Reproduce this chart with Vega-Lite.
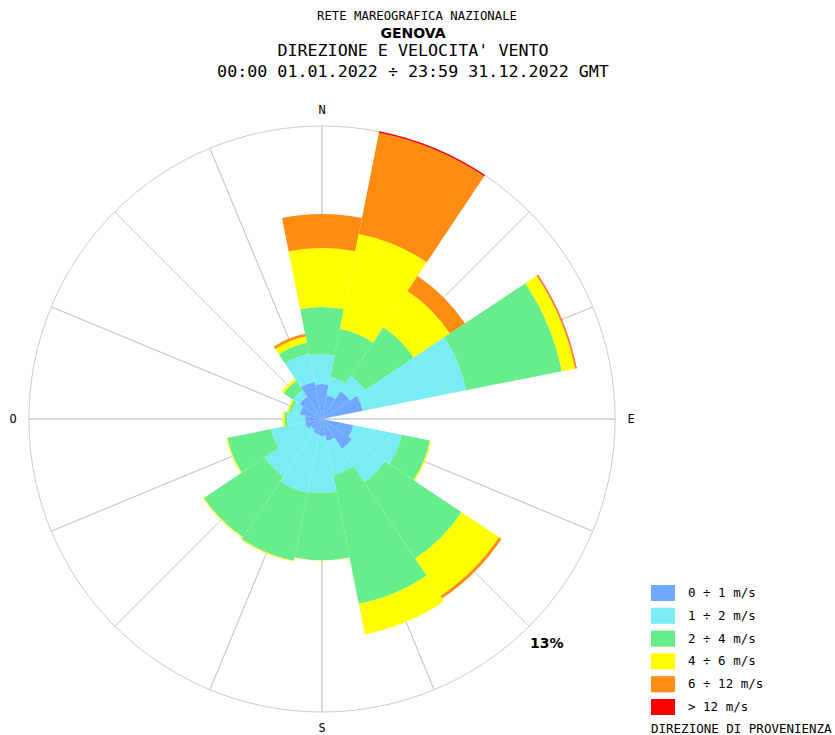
{
  "$schema": "https://vega.github.io/schema/vega-lite/v6.json",
  "background": "white",
  "padding": {"left": 2, "top": 10, "right": 0, "bottom": 0},
  "title": {
    "text": "RETE MAREOGRAFICA NAZIONALE",
    "font": "DejaVu Sans Mono", "fontSize": 12.3, "fontWeight": "normal", "color": "black",
    "anchor": "middle", "frame": "bounds", "offset": 4
  },
  "datasets": {
    "rose": [
      {"d": 0, "s": "0 ÷ 1 m/s", "f": 1.55}, {"d": 0, "s": "1 ÷ 2 m/s", "f": 1.32}, {"d": 0, "s": "2 ÷ 4 m/s", "f": 2.10}, {"d": 0, "s": "4 ÷ 6 m/s", "f": 2.62}, {"d": 0, "s": "6 ÷ 12 m/s", "f": 1.50},
      {"d": 22.5, "s": "0 ÷ 1 m/s", "f": 1.07}, {"d": 22.5, "s": "1 ÷ 2 m/s", "f": 0.83}, {"d": 22.5, "s": "2 ÷ 4 m/s", "f": 2.18}, {"d": 22.5, "s": "4 ÷ 6 m/s", "f": 4.29}, {"d": 22.5, "s": "6 ÷ 12 m/s", "f": 4.58}, {"d": 22.5, "s": "> 12 m/s", "f": 0.07},
      {"d": 45, "s": "0 ÷ 1 m/s", "f": 1.50}, {"d": 45, "s": "1 ÷ 2 m/s", "f": 0.80}, {"d": 45, "s": "2 ÷ 4 m/s", "f": 2.60}, {"d": 45, "s": "4 ÷ 6 m/s", "f": 1.93}, {"d": 45, "s": "6 ÷ 12 m/s", "f": 0.80},
      {"d": 67.5, "s": "0 ÷ 1 m/s", "f": 1.86}, {"d": 67.5, "s": "1 ÷ 2 m/s", "f": 4.66}, {"d": 67.5, "s": "2 ÷ 4 m/s", "f": 4.33}, {"d": 67.5, "s": "4 ÷ 6 m/s", "f": 0.60}, {"d": 67.5, "s": "6 ÷ 12 m/s", "f": 0.05}, {"d": 67.5, "s": "> 12 m/s", "f": 0.02},
      {"d": 112.5, "s": "0 ÷ 1 m/s", "f": 1.42}, {"d": 112.5, "s": "1 ÷ 2 m/s", "f": 2.18}, {"d": 112.5, "s": "2 ÷ 4 m/s", "f": 1.28}, {"d": 112.5, "s": "4 ÷ 6 m/s", "f": 0.05},
      {"d": 135, "s": "0 ÷ 1 m/s", "f": 1.60}, {"d": 135, "s": "1 ÷ 2 m/s", "f": 1.77}, {"d": 135, "s": "2 ÷ 4 m/s", "f": 4.08}, {"d": 135, "s": "4 ÷ 6 m/s", "f": 2.00}, {"d": 135, "s": "6 ÷ 12 m/s", "f": 0.13},
      {"d": 157.5, "s": "0 ÷ 1 m/s", "f": 1.00}, {"d": 157.5, "s": "1 ÷ 2 m/s", "f": 1.53}, {"d": 157.5, "s": "2 ÷ 4 m/s", "f": 5.83}, {"d": 157.5, "s": "4 ÷ 6 m/s", "f": 1.38},
      {"d": 180, "s": "0 ÷ 1 m/s", "f": 0.75}, {"d": 180, "s": "1 ÷ 2 m/s", "f": 2.53}, {"d": 180, "s": "2 ÷ 4 m/s", "f": 2.98}, {"d": 180, "s": "4 ÷ 6 m/s", "f": 0.02},
      {"d": 202.5, "s": "0 ÷ 1 m/s", "f": 0.70}, {"d": 202.5, "s": "1 ÷ 2 m/s", "f": 2.63}, {"d": 202.5, "s": "2 ÷ 4 m/s", "f": 3.08}, {"d": 202.5, "s": "4 ÷ 6 m/s", "f": 0.04},
      {"d": 225, "s": "0 ÷ 1 m/s", "f": 0.58}, {"d": 225, "s": "1 ÷ 2 m/s", "f": 2.48}, {"d": 225, "s": "2 ÷ 4 m/s", "f": 3.24}, {"d": 225, "s": "4 ÷ 6 m/s", "f": 0.04},
      {"d": 247.5, "s": "0 ÷ 1 m/s", "f": 0.75}, {"d": 247.5, "s": "1 ÷ 2 m/s", "f": 1.55}, {"d": 247.5, "s": "2 ÷ 4 m/s", "f": 1.98}, {"d": 247.5, "s": "4 ÷ 6 m/s", "f": 0.04},
      {"d": 270, "s": "0 ÷ 1 m/s", "f": 0.75}, {"d": 270, "s": "1 ÷ 2 m/s", "f": 0.80}, {"d": 270, "s": "2 ÷ 4 m/s", "f": 0.11}, {"d": 270, "s": "4 ÷ 6 m/s", "f": 0.09},
      {"d": 292.5, "s": "0 ÷ 1 m/s", "f": 1.00}, {"d": 292.5, "s": "1 ÷ 2 m/s", "f": 0.38}, {"d": 292.5, "s": "2 ÷ 4 m/s", "f": 0.12}, {"d": 292.5, "s": "4 ÷ 6 m/s", "f": 0.07},
      {"d": 315, "s": "0 ÷ 1 m/s", "f": 1.20}, {"d": 315, "s": "1 ÷ 2 m/s", "f": 0.35}, {"d": 315, "s": "2 ÷ 4 m/s", "f": 0.49}, {"d": 315, "s": "4 ÷ 6 m/s", "f": 0.11},
      {"d": 337.5, "s": "0 ÷ 1 m/s", "f": 1.69}, {"d": 337.5, "s": "1 ÷ 2 m/s", "f": 1.26}, {"d": 337.5, "s": "2 ÷ 4 m/s", "f": 0.50}, {"d": 337.5, "s": "4 ÷ 6 m/s", "f": 0.28}, {"d": 337.5, "s": "6 ÷ 12 m/s", "f": 0.13}
    ],
    "dirs": [
      {"d": 0}, {"d": 22.5}, {"d": 45}, {"d": 67.5}, {"d": 90}, {"d": 112.5}, {"d": 135}, {"d": 157.5},
      {"d": 180}, {"d": 202.5}, {"d": 225}, {"d": 247.5}, {"d": 270}, {"d": 292.5}, {"d": 315}, {"d": 337.5}
    ],
    "card": [
      {"d": 0, "t": "N"}, {"d": 90, "t": "E"}, {"d": 180, "t": "S"}, {"d": 270, "t": "O"}
    ]
  },
  "vconcat": [
    {
      "width": 640,
      "height": 640,
      "title": {
        "text": "GENOVA",
        "subtitle": ["DIREZIONE E VELOCITA' VENTO", "00:00 01.01.2022 ÷ 23:59 31.12.2022 GMT"],
        "font": "DejaVu Sans", "fontSize": 14, "fontWeight": "bold", "color": "black",
        "subtitleFont": "DejaVu Sans Mono", "subtitleFontSize": 16.7, "subtitleColor": "black",
        "subtitleLineHeight": 21.7, "subtitlePadding": 2,
        "anchor": "middle", "frame": "bounds", "offset": 18, "dx": 91
      },
      "layer": [
        {
          "data": {"name": "dirs"},
          "mark": {"type": "arc", "filled": false, "stroke": "#cccccc", "strokeWidth": 1},
          "encoding": {
            "theta": {"field": "d", "type": "quantitative", "stack": null,
                      "scale": {"type": "linear", "domain": [0, 360], "range": [0, 6.283185307179586]}},
            "theta2": {"field": "d"},
            "radius": {"datum": 13, "type": "quantitative",
                       "scale": {"type": "linear", "domain": [0, 13], "range": [0, 293], "zero": true, "nice": false}}
          }
        },
        {
          "data": {"values": [{}]},
          "mark": {"type": "arc", "filled": false, "stroke": "#cccccc", "strokeWidth": 1, "theta": 0, "theta2": 6.2832},
          "encoding": {
            "radius": {"datum": 13, "type": "quantitative"}
          }
        },
        {
          "data": {"name": "rose"},
          "mark": {"type": "arc", "thetaOffset": -0.19635, "theta2Offset": 0.19635},
          "encoding": {
            "theta": {"field": "d", "type": "quantitative", "stack": null},
            "theta2": {"field": "d"},
            "radius": {"field": "f", "type": "quantitative", "stack": true},
            "color": {
              "field": "s", "type": "nominal",
              "scale": {
                "domain": ["0 ÷ 1 m/s", "1 ÷ 2 m/s", "2 ÷ 4 m/s", "4 ÷ 6 m/s", "6 ÷ 12 m/s", "> 12 m/s"],
                "range": ["#6ea8ff", "#7aecf4", "#66ee8c", "#ffff00", "#ff8c12", "#ff0000"]
              },
              "legend": {
                "orient": "none", "legendX": 649, "legendY": 482,
                "title": "DIREZIONE DI PROVENIENZA", "titleOrient": "bottom", "titleAnchor": "start", "titleLimit": 400,
                "titleFont": "DejaVu Sans Mono", "titleFontSize": 12.5, "titleFontWeight": "normal", "titleColor": "black", "titlePadding": 8,
                "labelFont": "DejaVu Sans Mono", "labelFontSize": 12.5, "labelColor": "black", "labelOffset": 13, "labelLimit": 300,
                "symbolType": "M-1,-0.667H1V0.667H-1Z", "symbolSize": 576, "symbolStrokeWidth": 0, "symbolOpacity": 1,
                "rowPadding": 1.8, "padding": 0
              }
            }
          }
        },
        {
          "data": {"name": "card"},
          "mark": {"type": "text", "font": "DejaVu Sans Mono", "fontSize": 12, "color": "black", "radiusOffset": 16, "align": "center", "baseline": "middle"},
          "encoding": {
            "theta": {"field": "d", "type": "quantitative", "stack": null},
            "radius": {"datum": 13, "type": "quantitative"},
            "text": {"field": "t"}
          }
        },
        {
          "data": {"values": [{}]},
          "mark": {"type": "text", "text": "13%", "font": "DejaVu Sans", "fontWeight": "bold", "fontSize": 14, "color": "black", "radiusOffset": 25, "align": "center", "baseline": "middle"},
          "encoding": {
            "theta": {"datum": 135, "type": "quantitative"},
            "radius": {"datum": 13, "type": "quantitative"}
          }
        }
      ]
    }
  ],
  "config": {"view": {"stroke": null}, "concat": {"spacing": 0}}
}
